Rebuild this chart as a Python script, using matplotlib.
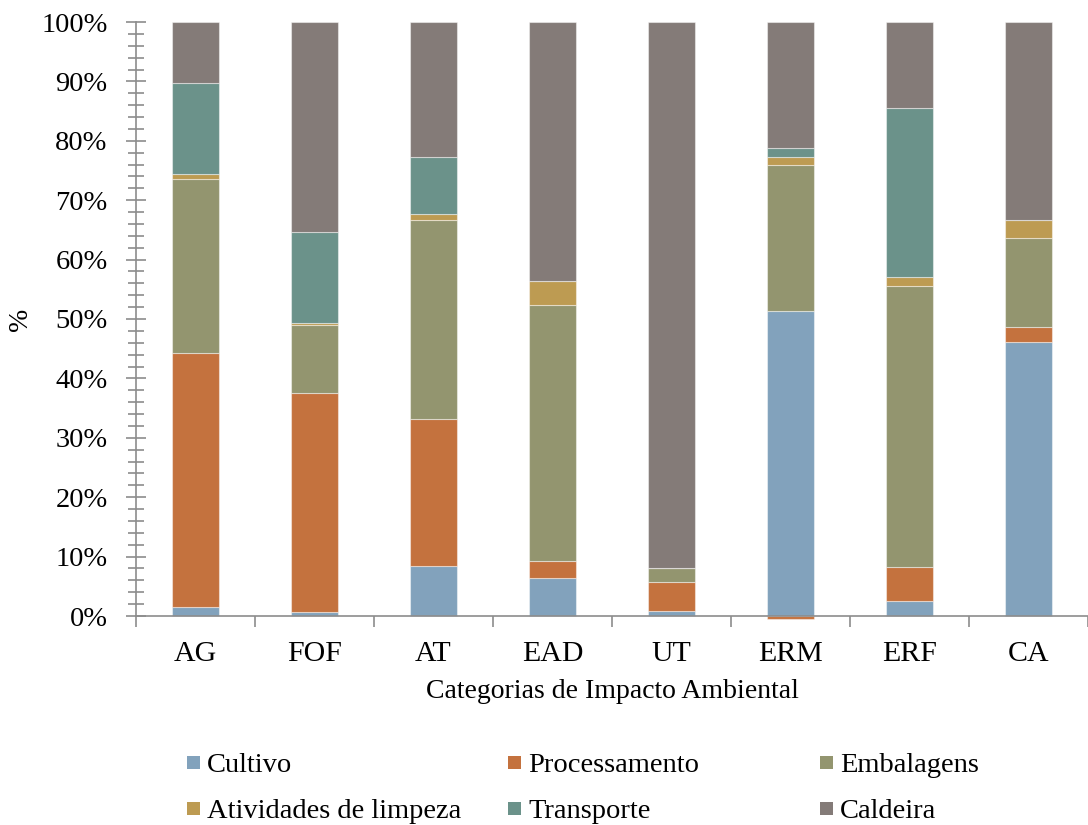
import matplotlib
matplotlib.use("Agg")
import matplotlib.pyplot as plt
import numpy as np
from matplotlib.patches import Rectangle
from matplotlib.ticker import FuncFormatter, MultipleLocator

categories = ["AG", "FOF", "AT", "EAD", "UT", "ERM", "ERF", "CA"]

cultivo = [1.5, 0.6, 8.5, 6.4, 0.8, 51.3, 2.6, 46.1]
processamento = [42.7, 36.9, 24.6, 2.9, 5.0, -0.5, 5.6, 2.5]
embalagens = [29.3, 11.5, 33.6, 43.0, 2.3, 24.7, 47.4, 15.0]
limpeza = [0.9, 0.3, 0.9, 4.1, 0.0, 1.3, 1.5, 3.0]
transporte = [15.3, 15.3, 9.7, 0.0, 0.0, 1.5, 28.4, 0.0]
caldeira = [10.3, 35.4, 22.7, 43.6, 91.9, 21.2, 14.5, 33.4]

series = [
    ("Cultivo", cultivo, "#82A2BC"),
    ("Processamento", processamento, "#C4723E"),
    ("Embalagens", embalagens, "#93956F"),
    ("Atividades de limpeza", limpeza, "#BD9B52"),
    ("Transporte", transporte, "#6B928A"),
    ("Caldeira", caldeira, "#847B78"),
]

plt.rcParams["font.family"] = ["Liberation Serif", "DejaVu Serif"]

W, H = 1088, 825
fig = plt.figure(figsize=(W / 100, H / 100), dpi=100)
ax = fig.add_axes([136 / W, 1 - 616 / H, 1 - 136 / W, (616 - 22) / H])

x = np.arange(len(categories))
pos_base = np.zeros(len(categories))
neg_base = np.zeros(len(categories))
for name, vals, color in series:
    v = np.array(vals, dtype=float)
    bottom = np.where(v >= 0, pos_base, neg_base)
    ax.bar(x, v, width=0.4, bottom=bottom, color=color,
           edgecolor=(1, 1, 1, 0.45), linewidth=0.8,
           label=name, clip_on=False, zorder=2)
    pos_base = pos_base + np.where(v >= 0, v, 0)
    neg_base = neg_base + np.where(v < 0, v, 0)

ax.set_xlim(-0.5, len(categories) - 0.5)
ax.set_ylim(0, 100)

ax.yaxis.set_major_locator(MultipleLocator(10))
ax.yaxis.set_minor_locator(MultipleLocator(2))
ax.yaxis.set_major_formatter(FuncFormatter(lambda v, p: f"{v:.0f}%"))

ax.set_xticks(x)
ax.set_xticklabels(categories)
ax.set_xticks(np.arange(-0.5, len(categories), 1.0), minor=True)

tick_gray = "#8C8C8C"
ax.tick_params(axis="y", which="major", direction="inout", length=15,
               width=1.2, color=tick_gray, labelsize=20.5, pad=13)
ax.tick_params(axis="y", which="minor", direction="inout", length=12,
               width=1.2, color=tick_gray)
ax.tick_params(axis="x", which="major", length=0, labelsize=21.5, pad=18)
ax.tick_params(axis="x", which="minor", direction="out", length=8,
               width=1.2, color=tick_gray)

for side in ("top", "right"):
    ax.spines[side].set_visible(False)
for side in ("left", "bottom"):
    ax.spines[side].set_color(tick_gray)
    ax.spines[side].set_linewidth(1.2)

ax.set_xlabel("Categorias de Impacto Ambiental", fontsize=20, labelpad=9)
ax.set_ylabel("%", fontsize=20)
ax.yaxis.set_label_coords((21 - 136) / (W - 136), 0.5)
ax.yaxis.label.set_verticalalignment("center")

# Legend drawn as three equal-width columns, two rows
legend_cols = [187, 508, 820]
legend_rows = [762, 808]
sq = 13
legend_layout = [(0, 0), (0, 1), (0, 2), (1, 0), (1, 1), (1, 2)]
for (name, _, color), (r, c) in zip(series, legend_layout):
    x0 = legend_cols[c]
    yc = legend_rows[r]
    fig.add_artist(Rectangle((x0 / W, 1 - (yc + sq / 2) / H), sq / W, sq / H,
                             transform=fig.transFigure, facecolor=color,
                             edgecolor="none"))
    fig.text((x0 + sq + 7) / W, 1 - yc / H, name, fontsize=20.5,
             ha="left", va="center_baseline")

fig.savefig("out.png", dpi=100)
